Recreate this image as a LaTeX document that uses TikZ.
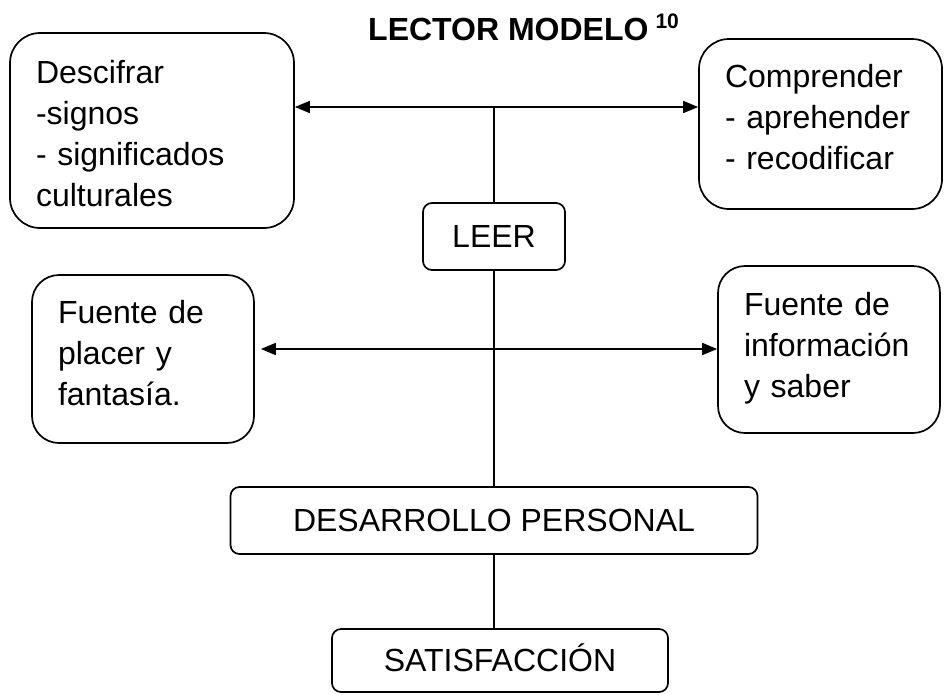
\documentclass[tikz,border=0pt]{standalone}
\usepackage{fontspec}
\setmainfont{Liberation Sans}
\usetikzlibrary{arrows.meta}
\begin{document}
\begin{tikzpicture}[x=1pt,y=-1pt,
  lw/.style={line width=1.7pt},
  bigbox/.style={draw, lw, rectangle, rounded corners=#1, inner xsep=26pt, inner ysep=0pt,
    font=\fontsize{32}{41}\selectfont, align=left},
  onebox/.style={draw, lw, rectangle, rounded corners=9pt, inner sep=0pt,
    font=\fontsize{32}{38}\selectfont, align=center},
  link/.style={lw},
  dblarrow/.style={lw, {Triangle[length=15pt,width=12pt]}-{Triangle[length=15pt,width=12pt]}}
]
\useasboundingbox (0,0) rectangle (944,694);

% title
\node[anchor=base west, inner sep=0pt, font=\fontsize{32}{38}\selectfont\bfseries] (title) at (368,40)
  {LECTOR MODELO\hspace{7pt}\raisebox{12pt}{\fontsize{21}{21}\selectfont\bfseries 10}};

% boxes
\node[bigbox=30pt, minimum width=284pt, minimum height=195pt, text width=232pt,
      text height=25pt, text depth=120pt] (b1) at (152,130.5)
  {Descifrar\\-signos\\- significados\\culturales};
\node[bigbox=30pt, minimum width=243pt, minimum height=170pt, text width=191pt,
      text height=25pt, text depth=99pt] (b2) at (820.5,124)
  {Comprender\\- aprehender\\- recodificar};
\node[bigbox=27pt, minimum width=222pt, minimum height=168pt, text width=170pt,
      text height=25pt, text depth=97pt] (b3) at (143,359)
  {Fuente de\\placer y\\fantasía.};
\node[bigbox=27pt, minimum width=222pt, minimum height=167pt, text width=170pt,
      text height=25pt, text depth=94pt] (b4) at (829,349.5)
  {Fuente de\\información\\y saber};

\node[onebox, minimum width=142pt, minimum height=67pt] (leer) at (494,236.5) {LEER};
\node[onebox, minimum width=527pt, minimum height=67pt] (dev) at (494,520.5) {DESARROLLO PERSONAL};
\node[onebox, minimum width=336pt, minimum height=63pt, text height=22.5pt, text depth=0pt] (sat) at (500,660.5) {SATISFACCIÓN};

% junctions
\coordinate (j1) at (494,107);
\coordinate (j2) at (494,349);

% connectors
\draw[dblarrow] (b1.east |- j1) -- (b2.west |- j1);
\draw[dblarrow] ([xshift=6pt]b3.east |- j2) -- (b4.west |- j2);
\draw[link] (j1) -- (leer.north);
\draw[link] (leer.south) -- (dev.north);
\draw[link] (dev.south -| j1) -- (sat.north -| j1);
\end{tikzpicture}
\end{document}
